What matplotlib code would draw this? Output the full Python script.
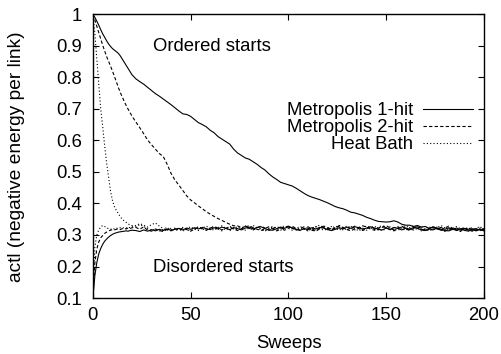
import numpy as np
import matplotlib
matplotlib.use("Agg")
import matplotlib.pyplot as plt

plt.rcParams['font.family'] = ['Liberation Sans', 'DejaVu Sans']

# sweep grid: every sweep up to 20, then every second sweep
sweeps = np.concatenate([np.arange(0, 21), np.arange(22, 201, 2)])

# ---- ordered starts ----
m1_ord = [1.000, 0.990, 0.978, 0.965, 0.951, 0.938, 0.927, 0.916, 0.906, 0.898,
          0.891, 0.886, 0.881, 0.876, 0.868, 0.858, 0.848, 0.838, 0.828, 0.818,
          0.808,
          0.795, 0.786, 0.778, 0.768, 0.758, 0.748, 0.740, 0.731, 0.722, 0.713,
          0.703, 0.693, 0.684, 0.682, 0.676, 0.666, 0.656, 0.650, 0.643, 0.632,
          0.624, 0.612, 0.604, 0.596, 0.588, 0.572, 0.560, 0.552, 0.544, 0.540,
          0.532, 0.524, 0.514, 0.506, 0.494, 0.484, 0.476, 0.467, 0.463, 0.459,
          0.455, 0.448, 0.440, 0.432, 0.425, 0.420, 0.416, 0.412, 0.407, 0.402,
          0.396, 0.390, 0.386, 0.383, 0.378, 0.372, 0.370, 0.366, 0.362, 0.356,
          0.352, 0.347, 0.343, 0.342, 0.341, 0.342, 0.345, 0.341, 0.334, 0.331,
          0.331, 0.327, 0.330, 0.325, 0.327, 0.321, 0.325, 0.319, 0.324, 0.318,
          0.323, 0.317, 0.322, 0.316, 0.321, 0.315, 0.320, 0.314, 0.319, 0.314]

m2_ord = [1.000, 0.982, 0.962, 0.942, 0.922, 0.902, 0.884, 0.866, 0.851, 0.836,
          0.820, 0.803, 0.786, 0.768, 0.752, 0.738, 0.724, 0.711, 0.699, 0.688,
          0.677,
          0.658, 0.640, 0.621, 0.601, 0.586, 0.572, 0.558, 0.549, 0.524, 0.495,
          0.474, 0.458, 0.441, 0.424, 0.411, 0.402, 0.392, 0.383, 0.374, 0.366,
          0.359, 0.352, 0.346, 0.340, 0.334, 0.329,
          0.329, 0.323, 0.327, 0.321, 0.316, 0.323, 0.328, 0.322, 0.315, 0.320,
          0.326, 0.322, 0.315, 0.322, 0.328, 0.320, 0.314, 0.320, 0.326, 0.319,
          0.314, 0.322, 0.328, 0.324, 0.318, 0.322, 0.330, 0.324, 0.317, 0.322,
          0.328, 0.320, 0.314, 0.320, 0.326, 0.320, 0.316, 0.324, 0.330, 0.322,
          0.316, 0.322, 0.328, 0.320, 0.314, 0.320, 0.326, 0.319, 0.313, 0.320,
          0.326, 0.320, 0.314, 0.322, 0.328, 0.320, 0.314, 0.318, 0.324, 0.316,
          0.312, 0.319, 0.315, 0.321]

hb_ord = [1.000, 0.940, 0.860, 0.780, 0.700, 0.645, 0.585, 0.530, 0.485, 0.440,
          0.410, 0.390, 0.378, 0.368, 0.358, 0.350, 0.345, 0.340, 0.335, 0.332,
          0.330,
          0.330, 0.336, 0.331, 0.325, 0.333, 0.338, 0.328, 0.320, 0.315, 0.321,
          0.314, 0.319, 0.324, 0.317, 0.313, 0.320, 0.326, 0.319, 0.315, 0.322,
          0.326, 0.319, 0.313, 0.321, 0.327, 0.323, 0.317, 0.321, 0.329, 0.322,
          0.316, 0.324, 0.319, 0.313, 0.321, 0.327, 0.321, 0.315, 0.323, 0.329,
          0.321, 0.316, 0.323, 0.319, 0.313, 0.321, 0.327, 0.321, 0.315, 0.319,
          0.327, 0.321, 0.315, 0.323, 0.329, 0.323, 0.316, 0.325, 0.321, 0.315,
          0.323, 0.328, 0.320, 0.313, 0.321, 0.326, 0.319, 0.315, 0.323, 0.330,
          0.321, 0.315, 0.321, 0.327, 0.319, 0.313, 0.319, 0.325, 0.317, 0.313,
          0.319, 0.325, 0.317, 0.311, 0.319, 0.323, 0.315, 0.321, 0.327, 0.316]

# ---- disordered starts ----
m1_dis = [0.100, 0.170, 0.212, 0.240, 0.257, 0.270, 0.280, 0.287, 0.293, 0.298,
          0.302, 0.305, 0.307, 0.309, 0.310, 0.311, 0.312, 0.313, 0.312, 0.314,
          0.315,
          0.314, 0.311, 0.316, 0.312, 0.317, 0.313, 0.318, 0.314, 0.319, 0.315,
          0.318, 0.321, 0.316, 0.322, 0.318, 0.323, 0.319, 0.324, 0.320, 0.317,
          0.323, 0.319, 0.325, 0.321, 0.317, 0.323, 0.320, 0.316, 0.322, 0.325,
          0.319, 0.324, 0.326, 0.320, 0.316, 0.315, 0.320, 0.325, 0.321, 0.326,
          0.323, 0.318, 0.315, 0.320, 0.317, 0.323, 0.319, 0.324, 0.322, 0.317,
          0.314, 0.318, 0.323, 0.319, 0.325, 0.321, 0.326, 0.323, 0.318, 0.322,
          0.326, 0.322, 0.318, 0.316, 0.322, 0.318, 0.324, 0.321, 0.316, 0.322,
          0.318, 0.324, 0.321, 0.316, 0.314, 0.319, 0.316, 0.322, 0.318, 0.314,
          0.313, 0.318, 0.315, 0.320, 0.315, 0.312, 0.317, 0.313, 0.318, 0.313]

m2_dis = [0.100, 0.210, 0.255, 0.278, 0.291, 0.298, 0.305, 0.309, 0.313, 0.315,
          0.317, 0.316, 0.318, 0.319, 0.317, 0.320, 0.321, 0.319, 0.322, 0.320,
          0.323,
          0.324, 0.318, 0.326, 0.315, 0.312, 0.319, 0.314, 0.311, 0.318, 0.313,
          0.320, 0.315, 0.322, 0.317, 0.312, 0.319, 0.325, 0.320, 0.315, 0.322,
          0.327, 0.322, 0.316, 0.321, 0.326, 0.319, 0.314, 0.320, 0.326, 0.329,
          0.323, 0.318, 0.314, 0.321, 0.326, 0.319, 0.313, 0.318, 0.324, 0.328,
          0.321, 0.315, 0.320, 0.326, 0.321, 0.315, 0.312, 0.319, 0.325, 0.320,
          0.315, 0.322, 0.328, 0.323, 0.317, 0.313, 0.320, 0.324, 0.329, 0.325,
          0.319, 0.315, 0.322, 0.327, 0.323, 0.317, 0.313, 0.320, 0.326, 0.321,
          0.317, 0.323, 0.327, 0.321, 0.315, 0.320, 0.326, 0.321, 0.315, 0.312,
          0.318, 0.322, 0.316, 0.312, 0.318, 0.323, 0.316, 0.320, 0.314, 0.318]

hb_dis = [0.100, 0.260, 0.300, 0.316, 0.325, 0.330, 0.327, 0.323, 0.320, 0.318,
          0.321, 0.319, 0.322, 0.320, 0.323, 0.321, 0.324, 0.322, 0.325, 0.323,
          0.326,
          0.326, 0.333, 0.327, 0.320, 0.314, 0.319, 0.313, 0.318, 0.324, 0.316,
          0.322, 0.318, 0.312, 0.320, 0.326, 0.318, 0.314, 0.322, 0.328, 0.320,
          0.315, 0.323, 0.329, 0.322, 0.314, 0.320, 0.327, 0.321, 0.315, 0.323,
          0.330, 0.323, 0.317, 0.312, 0.320, 0.326, 0.318, 0.323, 0.329, 0.321,
          0.315, 0.321, 0.327, 0.320, 0.313, 0.320, 0.326, 0.331, 0.323, 0.317,
          0.321, 0.328, 0.323, 0.315, 0.321, 0.327, 0.320, 0.313, 0.321, 0.329,
          0.323, 0.317, 0.325, 0.330, 0.323, 0.315, 0.321, 0.327, 0.320, 0.315,
          0.323, 0.329, 0.321, 0.313, 0.320, 0.326, 0.318, 0.323, 0.330, 0.323,
          0.315, 0.321, 0.327, 0.320, 0.313, 0.319, 0.324, 0.316, 0.322, 0.318]

labels = ["Metropolis 1-hit", "Metropolis 2-hit", "Heat Bath"]
x_ticks = [0, 50, 100, 150, 200]
y_ticks = [0.1, 0.2, 0.3, 0.4, 0.5, 0.6, 0.7, 0.8, 0.9, 1.0]
y_ticklabels = ["0.1", "0.2", "0.3", "0.4", "0.5", "0.6", "0.7", "0.8", "0.9", "1"]

styles = ['-', (0, (3, 2)), (0, (1, 2))]
fs = 13.3

fig = plt.figure(figsize=(5.02, 3.54), dpi=100)
ax = fig.add_axes([0.185, 0.158, 0.779, 0.802])

for ys_o, ys_d, ls, lab in zip([m1_ord, m2_ord, hb_ord], [m1_dis, m2_dis, hb_dis],
                               styles, labels):
    ax.plot(sweeps, ys_o, color='black', lw=0.8, ls=ls, label=lab)
    ax.plot(sweeps, ys_d, color='black', lw=0.8, ls=ls)

ax.set_xlim(0, 200)
ax.set_ylim(0.1, 1.0)
ax.set_xticks(x_ticks)
ax.set_yticks(y_ticks)
ax.set_yticklabels(y_ticklabels)
ax.tick_params(direction='in', length=4.5, width=0.8, top=True, right=True,
               labelsize=fs)
ax.tick_params(axis='x', pad=6.5)
ax.tick_params(axis='y', pad=8)
for s in ax.spines.values():
    s.set_linewidth(1.0)

ax.text(30.7, 0.898, "Ordered starts", fontsize=fs, ha='left', va='center')
ax.text(30.7, 0.198, "Disordered starts", fontsize=fs, ha='left', va='center')

ax.legend(loc='center right', bbox_to_anchor=(0.972, 0.600), frameon=False,
          markerfirst=False, fontsize=fs, handlelength=2.7, handletextpad=0.55,
          labelspacing=0.0, borderpad=0, borderaxespad=0)

fig.text(17 / 502, 1 - 157 / 354, "actl (negative energy per link)",
         rotation=90, ha='center', va='center', fontsize=13.8)
fig.text(289 / 502, 1 - 343 / 354, "Sweeps", ha='center', va='center',
         fontsize=fs)

fig.savefig("out.png", dpi=100)
